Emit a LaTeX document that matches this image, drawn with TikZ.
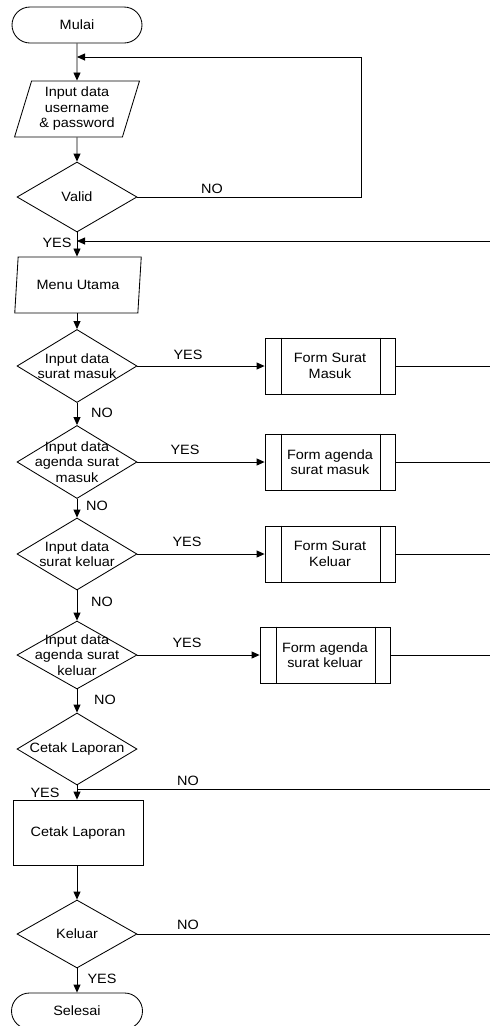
\documentclass[tikz,border=0pt]{standalone}
\usepackage{fontspec}
\setmainfont{Liberation Sans}[FakeStretch=1.07]
\usetikzlibrary{shapes.geometric,shapes.misc,arrows.meta,calc}
\begin{document}
\begin{tikzpicture}[x=1pt,y=-1pt,
  font=\fontsize{13.5}{15.5}\selectfont, line width=0.85pt,
  arr/.style={-{Triangle[length=8pt,width=7pt]}},
  dec/.style={diamond, draw, minimum width=120pt, minimum height=72pt, inner sep=0pt},
  para/.style={trapezium, draw, trapezium stretches=true, inner sep=0pt, align=center},
  term/.style={rounded rectangle, draw, inner sep=0pt},
  proc/.style={rectangle, draw, minimum width=130pt, minimum height=56pt, inner sep=0pt, align=center},
  lbl/.style={inner sep=0pt}]
\clip (0,0) rectangle (490,1026);
\fill[white] (0,0) rectangle (490,1026);

% column nodes
\node[term, minimum width=130pt, minimum height=36pt] (mulai) at (77,25) {Mulai};
\node[para, trapezium left angle=72, trapezium right angle=108, minimum width=125pt, minimum height=56pt] (inp) at (77,109) {Input data\\username\\\& password};
\node[dec, minimum height=70pt] (valid) at (77,197) {};
\node[lbl] at (valid.center) {Valid};
\node[para, trapezium left angle=76, trapezium right angle=104, minimum width=127pt, minimum height=56pt] (menu) at (78,285) {Menu Utama};
\node[dec, minimum height=73pt] (d1) at (77,366) {};
\node[lbl, align=center] at (d1.center) {Input data\\surat masuk};
\node[dec, minimum height=73pt] (d2) at (77,462) {};
\node[lbl, align=center] at (d2.center) {Input data\\agenda surat\\masuk};
\node[dec] (d3) at (77,554) {};
\node[lbl, align=center] at (d3.center) {Input data\\surat keluar};
\node[dec, minimum height=68pt] (d4) at (77,655) {};
\node[lbl, align=center] at (d4.center) {Input data\\agenda surat\\keluar};
\node[dec] (d5) at (77,749) {};
\node[lbl] at (d5.center) {Cetak Laporan};
\node[proc, minimum height=65pt] (cetak) at (78,832.5) {Cetak Laporan};
\node[dec, minimum height=68pt] (keluar) at (77,934) {};
\node[lbl] at (keluar.center) {Keluar};
\node[term, minimum width=131pt, minimum height=36pt] (selesai) at (77,1011) {Selesai};

% predefined process boxes
\node[proc] (f1) at (330,366) {Form Surat\\Masuk};
\node[proc] (f2) at (330,462) {Form agenda\\surat masuk};
\node[proc] (f3) at (330,554) {Form Surat\\Keluar};
\node[proc] (f4) at (325,655) {Form agenda\\surat keluar};
\foreach \f in {f1,f2,f3,f4}{
  \draw ($(\f.north west)+(17,0)$) -- ($(\f.south west)+(17,0)$);
  \draw ($(\f.north east)+(-15,0)$) -- ($(\f.south east)+(-15,0)$);
}

% coordinates
\coordinate (lp) at (361,57);
\coordinate (j1) at (77,57);
\coordinate (r2) at (490,241);
\coordinate (j2) at (77,241);
\coordinate (e1) at (490,366);
\coordinate (e2) at (490,462);
\coordinate (e3) at (490,554);
\coordinate (e4) at (490,655);
\coordinate (r5) at (490,789);
\coordinate (j5) at (77,789);
\coordinate (e6) at (490,934);

% connectors
\draw[arr] (mulai) -- (inp);
\draw[arr] (inp) -- (valid);
\draw[arr] (valid.east) -| (lp) -- (j1);
\draw[arr] (valid) -- (menu.north -| valid);
\draw[arr] (r2) -- (j2);
\draw[arr] (menu.south -| d1) -- (d1);
\draw[arr] (d1) -- (d2);
\draw[arr] (d2) -- (d3);
\draw[arr] (d3) -- (d4);
\draw[arr] (d4) -- (d5);
\draw[arr] (d5) -- (cetak.north -| d5);
\draw (r5) -- (j5);
\draw[arr] (cetak.south -| keluar) -- (keluar);
\draw[arr] (keluar) -- (selesai);
\draw (keluar.east) -- (e6);
\draw[arr] (d1) -- (f1);
\draw[arr] (d2) -- (f2);
\draw[arr] (d3) -- (f3);
\draw[arr] (d4) -- (f4);
\draw (f1.east) -- (e1);
\draw (f2.east) -- (e2);
\draw (f3.east) -- (e3);
\draw (f4.east) -- (e4);

% labels
\node[lbl] (l1) at (212,189) {NO};
\node[lbl] (l2) at (57,243) {YES};
\node[lbl] (l3) at (188,355) {YES};
\node[lbl] (l4) at (102,413) {NO};
\node[lbl] (l5) at (185,450) {YES};
\node[lbl] (l6) at (97,506) {NO};
\node[lbl] (l7) at (187,542) {YES};
\node[lbl] (l8) at (102,602) {NO};
\node[lbl] (l9) at (187,643) {YES};
\node[lbl] (l10) at (105,700) {NO};
\node[lbl] (l11) at (188,781) {NO};
\node[lbl] (l12) at (45,793) {YES};
\node[lbl] (l13) at (188,925) {NO};
\node[lbl] (l14) at (102,979) {YES};
\end{tikzpicture}
\end{document}
